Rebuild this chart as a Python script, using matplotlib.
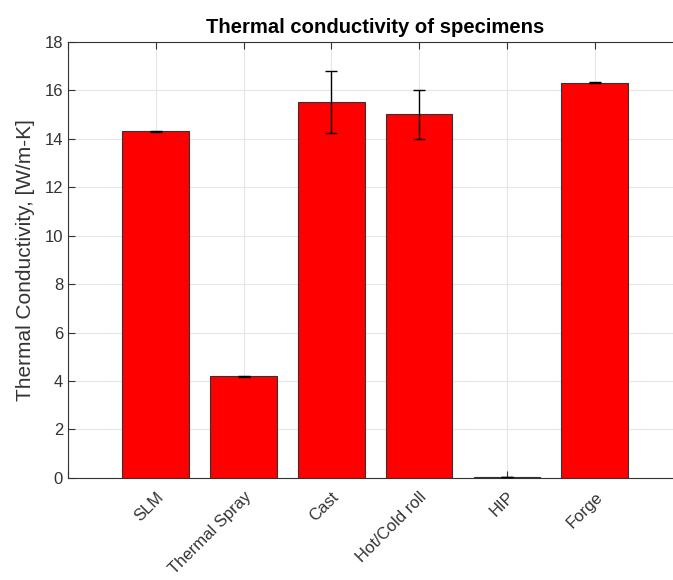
import matplotlib
matplotlib.use("Agg")
import matplotlib.pyplot as plt
from matplotlib.transforms import ScaledTranslation

plt.rcParams["font.family"] = ["Liberation Sans", "DejaVu Sans"]

# values
categories = ["SLM", "Thermal Spray", "Cast", "Hot/Cold roll", "HIP", "Forge"]
conductivity = [14.3, 4.2, 15.5, 15.0, 0.05, 16.3]
errors = [0.02, 0.02, 1.28, 1.0, 0.0, 0.02]


def main():
    fig = plt.figure(figsize=(6.73, 5.8), dpi=100)
    # axes run past the right edge, like the cropped original
    ax = fig.add_axes([0.101, 0.176, 0.913, 0.752])

    x = list(range(1, len(categories) + 1))
    ax.bar(x, conductivity, width=0.76, color="#ff0000",
           edgecolor="#333333", linewidth=0.8, zorder=3)
    ax.errorbar(x, conductivity, yerr=errors, fmt="none", ecolor="black",
                elinewidth=1.0, capsize=4.5, capthick=1.0, zorder=4)

    ax.set_xlim(0, 7)
    ax.set_ylim(0, 18)
    ax.set_xticks(range(0, 8))
    ax.set_xticklabels([""] + categories + [""], rotation=45,
                       ha="right", rotation_mode="anchor", fontsize=12,
                       color="#333333")
    shift = ScaledTranslation(8 / 72, 0, fig.dpi_scale_trans)
    for lbl in ax.get_xticklabels():
        lbl.set_transform(lbl.get_transform() + shift)
    ax.set_yticks(range(0, 19, 2))
    ax.tick_params(axis="y", labelsize=12, labelcolor="#333333")
    ax.tick_params(direction="in", top=True, right=True, length=5,
                   color="#333333")
    ax.tick_params(axis="x", pad=8)

    ax.grid(True, color="#e6e6e6", linewidth=0.8, zorder=0)
    ax.set_axisbelow(True)
    for s in ax.spines.values():
        s.set_color("#333333")
        s.set_linewidth(0.8)

    ax.set_ylabel("Thermal Conductivity, [W/m-K]", fontsize=15,
                  color="#333333", labelpad=7)
    ax.set_title("Thermal conductivity of specimens", fontsize=14.6,
                 fontweight="bold", pad=6)

    fig.savefig("out.png", dpi=100)
    plt.close(fig)


if __name__ == "__main__":
    main()
